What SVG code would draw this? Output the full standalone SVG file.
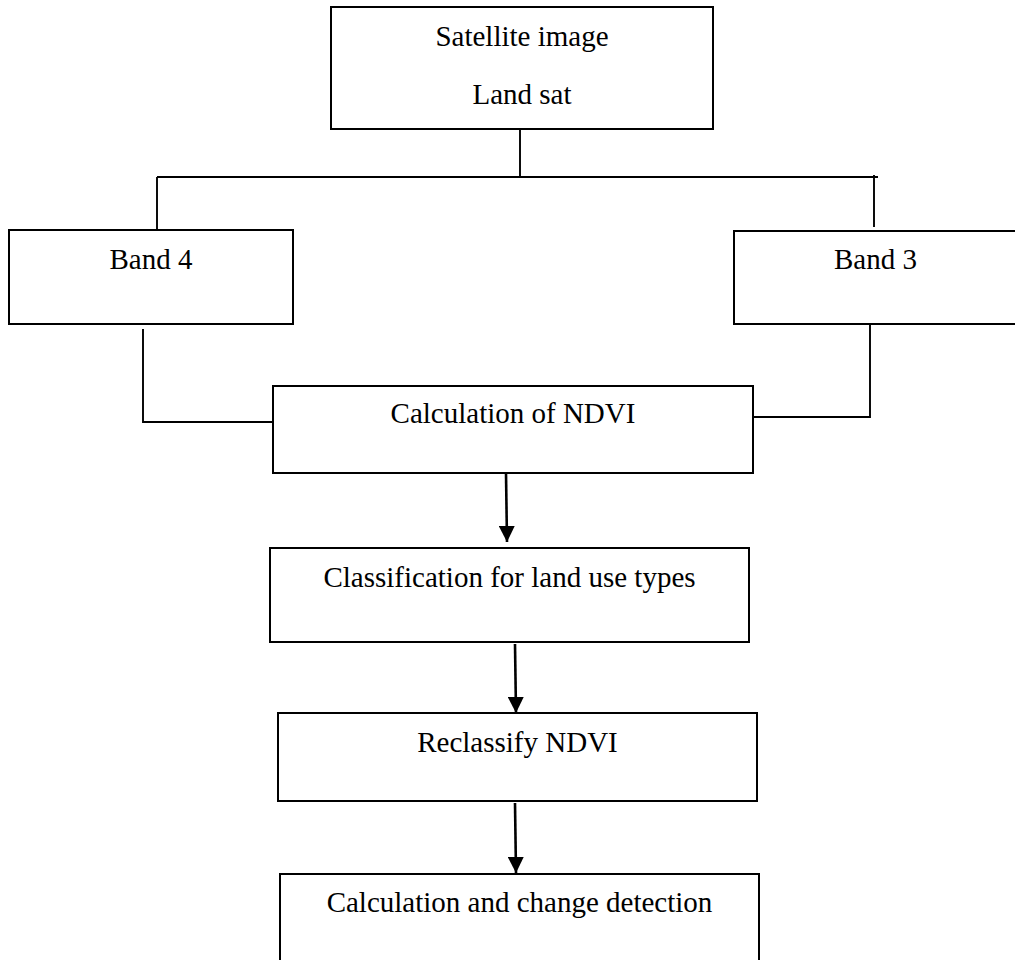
<svg xmlns="http://www.w3.org/2000/svg" width="1015" height="960" viewBox="0 0 1015 960">
<defs>
<style>
.box{fill:#fff;stroke:#000;stroke-width:2}
.lbl{font-family:"Liberation Serif","Times New Roman",serif;font-size:29px;fill:#000;text-anchor:middle}
.con{fill:none;stroke:#000;stroke-width:1.9}
.arr{fill:none;stroke:#000;stroke-width:2.6}
</style>
<marker id="ah" markerUnits="userSpaceOnUse" markerWidth="17" markerHeight="16" refX="16" refY="8" orient="auto">
<path d="M0,0 L16,8 L0,16 z" fill="#000"/>
</marker>
</defs>
<rect width="1015" height="960" fill="#fff"/>
<g id="connectors">
<line class="con" x1="520" y1="129" x2="520" y2="177"/>
<line class="con" x1="157" y1="177" x2="878" y2="177"/>
<line class="con" x1="157" y1="177" x2="157" y2="230"/>
<line class="con" x1="874" y1="175" x2="874" y2="227"/>
<polyline class="con" points="143,329 143,422 273,422"/>
<polyline class="con" points="870,324 870,417 753,417"/>
<line class="arr" x1="506" y1="473" x2="507" y2="542" marker-end="url(#ah)"/>
<line class="arr" x1="515" y1="644" x2="516" y2="713" marker-end="url(#ah)"/>
<line class="arr" x1="515" y1="803" x2="516" y2="873" marker-end="url(#ah)"/>
</g>
<g id="satellite">
<rect class="box" x="331" y="7" width="382" height="122"/>
<text class="lbl" x="522" y="46">Satellite image</text>
<text class="lbl" x="522" y="104">Land sat</text>
</g>
<g id="band4">
<rect class="box" x="9" y="230" width="284" height="94"/>
<text class="lbl" x="151" y="269">Band 4</text>
</g>
<g id="band3">
<rect class="box" x="734" y="231" width="284" height="93"/>
<text class="lbl" x="875.5" y="269">Band 3</text>
</g>
<g id="ndvi">
<rect class="box" x="273" y="386" width="480" height="87"/>
<text class="lbl" x="513" y="423">Calculation of NDVI</text>
</g>
<g id="classification">
<rect class="box" x="270" y="548" width="479" height="94"/>
<text class="lbl" x="509.5" y="587">Classification for land use types</text>
</g>
<g id="reclassify">
<rect class="box" x="278" y="713" width="479" height="88"/>
<text class="lbl" x="517.5" y="752">Reclassify NDVI</text>
</g>
<g id="change">
<rect class="box" x="280" y="874" width="479" height="90"/>
<text class="lbl" x="519.5" y="912">Calculation and change detection</text>
</g>
</svg>
